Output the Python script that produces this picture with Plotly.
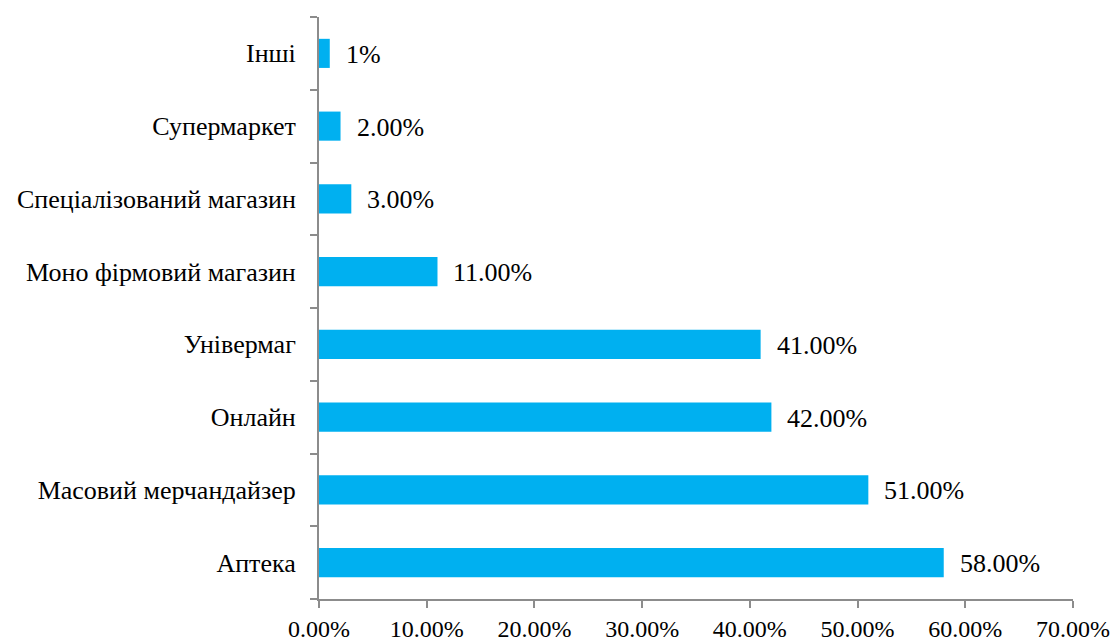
import plotly.graph_objects as go

# Sales channel shares (bottom to top as drawn)
categories = [
    "Аптека",
    "Масовий мерчандайзер",
    "Онлайн",
    "Універмаг",
    "Моно фірмовий магазин",
    "Спеціалізований магазин",
    "Супермаркет",
    "Інші",
]
values = [58, 51, 42, 41, 11, 3, 2, 1]
value_labels = ["58.00%", "51.00%", "42.00%", "41.00%", "11.00%", "3.00%", "2.00%", "1%"]

tick_vals = [0, 10, 20, 30, 40, 50, 60, 70]
tick_text = ["0.00%", "10.00%", "20.00%", "30.00%", "40.00%", "50.00%", "60.00%", "70.00%"]

FONT = "Liberation Serif, Times New Roman, serif"
AXIS_GREY = "#8c8c8c"
BAR_BLUE = "#00b0f0"
SIZE = 26

fig = go.Figure(
    go.Bar(
        x=values,
        y=categories,
        orientation="h",
        marker=dict(color=BAR_BLUE, line=dict(width=0)),
        width=0.4,
        hoverinfo="skip",
    )
)

for cat, val, lab in zip(categories, values, value_labels):
    fig.add_annotation(
        x=val, y=cat, text=lab, showarrow=False,
        xanchor="left", xshift=14, yshift=-1,
        font=dict(family=FONT, size=SIZE, color="#000000"),
    )

fig.update_layout(
    width=1117, height=641,
    margin=dict(l=319, r=44, t=17, b=42),
    paper_bgcolor="white", plot_bgcolor="white",
    showlegend=False,
    font=dict(family=FONT, size=SIZE, color="#000000"),
    xaxis=dict(
        range=[0, 70], tickvals=tick_vals, ticktext=tick_text,
        showgrid=False, zeroline=False, automargin=False,
        showline=True, linecolor=AXIS_GREY, linewidth=2,
        ticks="outside", ticklen=7, tickcolor=AXIS_GREY, tickwidth=2,
        ticklabelstandoff=0,
        tickfont=dict(family=FONT, size=24),
    ),
    yaxis=dict(
        categoryorder="array", categoryarray=categories,
        range=[-0.5, len(categories) - 0.5],
        showgrid=False, zeroline=False, automargin=False,
        showline=True, linecolor=AXIS_GREY, linewidth=2,
        ticks="outside", ticklen=7, tickcolor=AXIS_GREY, tickwidth=2,
        tickson="boundaries", ticklabelstandoff=16,
        tickfont=dict(family=FONT, size=SIZE),
    ),
)

fig.write_html("out.html")
